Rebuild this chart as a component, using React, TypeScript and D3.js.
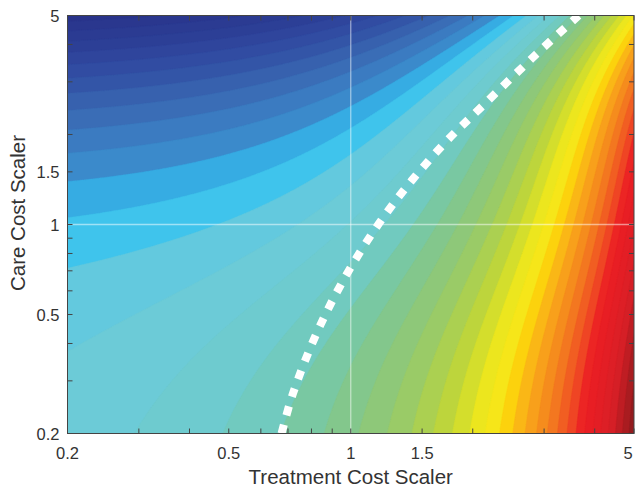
import React, { useEffect, useMemo } from "react";
import * as d3 from "d3";

const W = 635;
const H = 488;
const plot = { left: 67.5, right: 634, top: 15.5, bottom: 433.5 };

const axisDomain = [0.2, 5];
const xTickValues = [0.2, 0.5, 1, 1.5, 5];
const yTickValues = [0.2, 0.5, 1, 1.5, 5];
const minorTickValues = [0.3, 0.4, 0.6, 0.7, 0.8, 0.9, 2, 3, 4];

// surface model (parameters)
const treatmentWeight = 1.0;
const careWeight = 0.53;
const dipDepth = 0.5; // extra drop in the middle band of care costs
const dipScale = 1.0; // how fast the drop grows with treatment cost
const dipCentre = 0.2; // ln(care) at the centre of the drop
const dipWidth = 0.9; // width of the drop in ln(care)
const cornerWeight = 0.2; // drop toward the high/high corner
const levelStep = 0.18;

// colour map over the surface value
const stopValues = [-2.45, -1.9, -1.6, -1.3, -1.0, -0.75, -0.6, -0.47, -0.35, -0.2, -0.1, 0.1, 0.4, 0.52, 0.7, 0.9, 1.15, 1.45, 1.65, 1.85, 2.05, 2.25, 2.5, 2.9, 3.3, 3.55, 4.2, 4.89];
const stopColors = ["#29338a", "#2c3f96", "#3048a0", "#3458a8", "#3a6cb5", "#3b80c5", "#3b8ccd", "#37a8e0", "#2ec2f0", "#4ec6e8", "#62c9de", "#6ccbd7", "#6fcbc8", "#74c9b2", "#7cc798", "#88c782", "#98cb6a", "#b4d244", "#cbda31", "#eae61f", "#f5e81a", "#fcd20d", "#f9ac19", "#f4801f", "#ef4a24", "#ec1e24", "#d91f26", "#841a1c"];

// threshold (dashed) line
const thresholdCare = [0.2, 0.272, 0.459, 0.76, 1.2, 1.84, 2.5, 3.72, 5];
const thresholdTreatment = [0.675, 0.72, 0.84, 1.025, 1.29, 1.685, 2.12, 2.875, 3.65];

const refTreatment = 1;
const refCare = 1;

const FONT = "'Liberation Sans', Arial, Helvetica, sans-serif";
const TEXT = "#333333";
const AXIS = "#444444";

function surface(t: number, c: number) {
  const lc = Math.log(c);
  const dip = dipDepth * (1 - Math.exp(-(t - 0.2) / dipScale)) * Math.exp(-((lc - dipCentre) ** 2) / (2 * dipWidth * dipWidth));
  return treatmentWeight * t - careWeight * c - dip - (cornerWeight * t * c) / 25;
}

export default function App() {
  useEffect(() => {
    document.body.style.margin = "0";
  }, []);

  const x = d3.scaleLog().domain(axisDomain).range([plot.left, plot.right]);
  const y = d3.scaleLog().domain(axisDomain).range([plot.bottom, plot.top]);
  const color = d3
    .scaleLinear<string>()
    .domain(stopValues)
    .range(stopColors)
    .interpolate(d3.interpolateRgb)
    .clamp(true);

  const plotW = plot.right - plot.left;
  const plotH = plot.bottom - plot.top;

  const bands = useMemo(() => {
    const nx = 320;
    const ny = 240;
    const dx = plotW / (nx - 1);
    const dy = plotH / (ny - 1);
    const values = new Array(nx * ny);
    for (let j = 0; j < ny; j++) {
      const cv = y.invert(plot.top + j * dy);
      for (let i = 0; i < nx; i++) {
        const tv = x.invert(plot.left + i * dx);
        values[j * nx + i] = surface(tv, cv);
      }
    }
    const [lo, hi] = d3.extent(values) as [number, number];
    const start = Math.floor(lo / levelStep) * levelStep + levelStep;
    const thresholds = d3.range(start, hi, levelStep);
    const contours = d3.contours().size([nx, ny]).thresholds(thresholds)(values);
    const transform = d3.geoTransform({
      point(px: number, py: number) {
        (this as any).stream.point(plot.left + (px - 0.5) * dx, plot.top + (py - 0.5) * dy);
      },
    });
    const path = d3.geoPath(transform);
    return {
      base: color(start - levelStep / 2),
      list: contours.map((c) => ({ d: path(c as any) || "", fill: color(c.value + levelStep / 2) })),
    };
  }, []);

  const dashLine = d3
    .line<number>()
    .x((i) => x(thresholdTreatment[i]))
    .y((i) => y(thresholdCare[i]))
    .curve(d3.curveCatmullRom)(d3.range(thresholdCare.length)) || "";

  const tickLen = 5;
  const allX = [...xTickValues, ...minorTickValues];
  const allY = [...yTickValues, ...minorTickValues];

  return (
    <svg width={W} height={H} style={{ display: "block", position: "absolute", left: 0, top: 0, background: "#fff" }}>
      <defs>
        <clipPath id="plotClip">
          <rect x={plot.left} y={plot.top} width={plotW} height={plotH} />
        </clipPath>
      </defs>
      <g clipPath="url(#plotClip)">
        <rect x={plot.left} y={plot.top} width={plotW} height={plotH} fill={bands.base} />
        {bands.list.map((b, i) => (
          <path key={i} d={b.d} fill={b.fill} stroke={b.fill} strokeWidth={0.4} />
        ))}
        <line x1={x(refTreatment)} x2={x(refTreatment)} y1={plot.top} y2={plot.bottom} stroke="#ffffff" strokeOpacity={0.5} strokeWidth={1.3} />
        <line x1={plot.left} x2={plot.right} y1={y(refCare)} y2={y(refCare)} stroke="#ffffff" strokeOpacity={0.5} strokeWidth={1.3} />
        <path d={dashLine} fill="none" stroke="#ffffff" strokeWidth={8} strokeDasharray="9 10" />
      </g>
      <rect x={plot.left} y={plot.top} width={plotW} height={plotH} fill="none" stroke={AXIS} strokeWidth={1} />
      {allX.map((v, i) => (
        <g key={"xt" + i} stroke={AXIS} strokeWidth={1}>
          <line x1={x(v)} x2={x(v)} y1={plot.bottom} y2={plot.bottom - tickLen} />
          <line x1={x(v)} x2={x(v)} y1={plot.top} y2={plot.top + tickLen} />
        </g>
      ))}
      {allY.map((v, i) => (
        <g key={"yt" + i} stroke={AXIS} strokeWidth={1}>
          <line x1={plot.left} x2={plot.left + tickLen} y1={y(v)} y2={y(v)} />
          <line x1={plot.right} x2={plot.right - tickLen} y1={y(v)} y2={y(v)} />
        </g>
      ))}
      {xTickValues.map((v, i) => (
        <text key={"xl" + i} x={Math.min(x(v), W - 7)} y={459.3} textAnchor="middle" fontFamily={FONT} fontSize={16.5} fill={TEXT}>
          {String(v)}
        </text>
      ))}
      {yTickValues.map((v, i) => (
        <text key={"yl" + i} x={59.5} y={y(v)} dy="0.4em" textAnchor="end" fontFamily={FONT} fontSize={16.5} fill={TEXT}>
          {String(v)}
        </text>
      ))}
      <text x={(plot.left + plot.right) / 2} y={484} textAnchor="middle" fontFamily={FONT} fontSize={20.5} fill={TEXT}>
        Treatment Cost Scaler
      </text>
      <text transform={`translate(25, 213) rotate(-90)`} textAnchor="middle" fontFamily={FONT} fontSize={20.5} fill={TEXT}>
        Care Cost Scaler
      </text>
    </svg>
  );
}
